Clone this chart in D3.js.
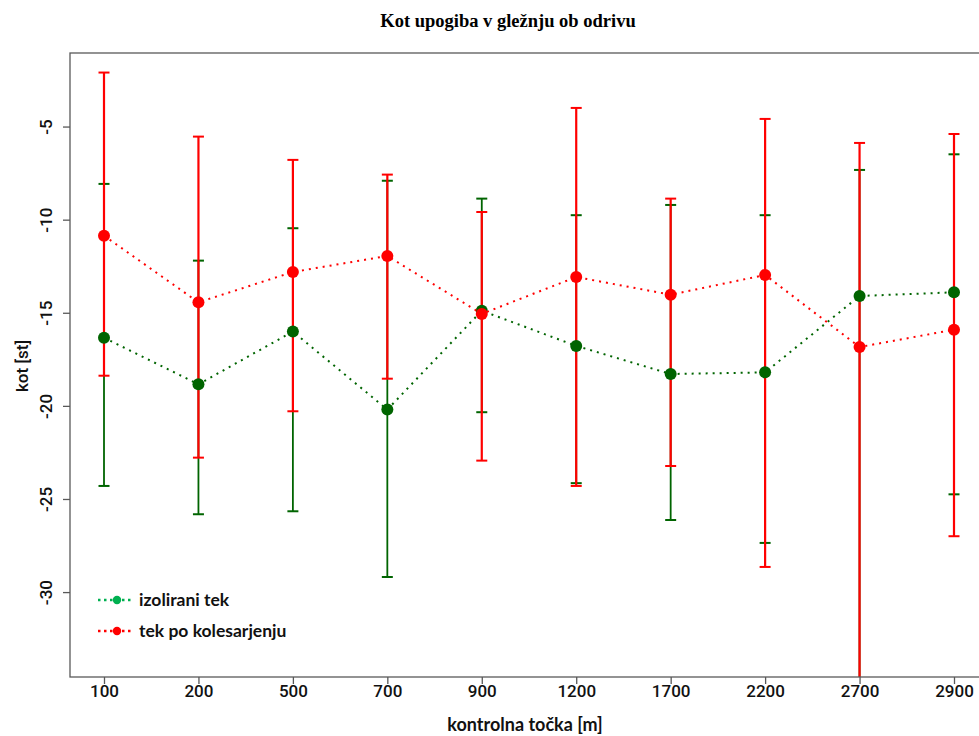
<!DOCTYPE html>
<html>
<head>
<meta charset="utf-8">
<script src="https://cdn.jsdelivr.net/npm/d3@7"></script>
<style>
  html, body { margin: 0; padding: 0; background: #fff; }
  svg { display: block; }
</style>
</head>
<body>
<svg id="chart" width="979" height="736"></svg>
<script>
// Control points along the course
const categories = ["100", "200", "500", "700", "900", "1200", "1700", "2200", "2700", "2900"];

// Isolated run: mean ankle flexion angle and error bar ends
const izoMean  = [-16.34, -18.84, -16.01, -20.20, -14.89, -16.78, -18.29, -18.20, -14.10, -13.90];
const izoUpper = [-8.08, -12.20, -10.46, -7.91, -8.87, -9.76, -9.21, -9.76, -7.33, -6.49];
const izoLower = [-24.30, -25.82, -25.66, -29.19, -20.34, -24.15, -26.13, -27.36, -36.00, -24.75];

// Run after cycling
const tekMean  = [-10.86, -14.44, -12.81, -11.95, -15.06, -13.08, -14.03, -12.97, -16.84, -15.91];
const tekUpper = [-2.10, -5.54, -6.79, -7.58, -9.59, -4.00, -8.87, -4.59, -5.88, -5.40];
const tekLower = [-18.38, -22.78, -20.29, -18.54, -22.94, -24.30, -23.23, -28.65, -37.00, -27.00];

const yTicks = [-30, -25, -20, -15, -10, -5];

const seriesNames = ["izolirani tek", "tek po kolesarjenju"];

const svg = d3.select("#chart");
const plot = { left: 70, right: 988, top: 53, bottom: 677 };

const x = d3.scalePoint().domain(categories).range([plot.left, plot.right]).padding(0.36);
const y = d3.scaleLinear().domain([-34.56, -1.05]).range([plot.bottom, plot.top]);

const series = [
  { name: seriesNames[0], mean: izoMean, upper: izoUpper, lower: izoLower, color: "#006400", barWidth: 1.8, legendColor: "#00b050" },
  { name: seriesNames[1], mean: tekMean, upper: tekUpper, lower: tekLower, color: "#ff0000", barWidth: 2.2, legendColor: "#ff0000" }
];

const tickFont = "Roboto, 'Liberation Sans', Arial, sans-serif";
const labelFont = "Lato, 'Open Sans', sans-serif";

svg.append("defs").append("clipPath").attr("id", "plotClip")
  .append("rect")
  .attr("x", plot.left).attr("y", plot.top)
  .attr("width", plot.right - plot.left).attr("height", plot.bottom - plot.top);

// Title
svg.append("text")
  .attr("x", 508).attr("y", 27)
  .attr("text-anchor", "middle")
  .attr("font-family", "'Liberation Serif', 'Times New Roman', serif")
  .attr("font-weight", "bold")
  .attr("font-size", 18.5)
  .text("Kot upogiba v gležnju ob odrivu");

const inner = svg.append("g").attr("clip-path", "url(#plotClip)");

// Error bars: both series first, then the connecting lines and points
const capHalf = 5.5;
series.forEach(s => {
  const g = inner.append("g");
  categories.forEach((c, i) => {
    const cx = x(c);
    g.append("line")
      .attr("x1", cx).attr("x2", cx)
      .attr("y1", y(s.upper[i])).attr("y2", y(s.lower[i]))
      .attr("stroke", s.color).attr("stroke-width", s.barWidth);
    [s.upper[i], s.lower[i]].forEach(v => {
      g.append("line")
        .attr("x1", cx - capHalf).attr("x2", cx + capHalf)
        .attr("y1", y(v)).attr("y2", y(v))
        .attr("stroke", s.color).attr("stroke-width", 2);
    });
  });
});

const line = d3.line().x((d, i) => x(categories[i])).y(d => y(d));
series.forEach(s => {
  inner.append("path")
    .datum(s.mean)
    .attr("d", line)
    .attr("fill", "none")
    .attr("stroke", s.color)
    .attr("stroke-width", 2)
    .attr("stroke-dasharray", "2,5");
  inner.append("g").selectAll("circle")
    .data(s.mean)
    .join("circle")
    .attr("cx", (d, i) => x(categories[i]))
    .attr("cy", d => y(d))
    .attr("r", 6)
    .attr("fill", s.color);
});

// Plot frame
svg.append("rect")
  .attr("x", plot.left).attr("y", plot.top)
  .attr("width", plot.right - plot.left).attr("height", plot.bottom - plot.top)
  .attr("fill", "none").attr("stroke", "#595959").attr("stroke-width", 1.3);

// Y axis (plain hyphen-minus labels)
const yAxis = d3.axisLeft(y).tickValues(yTicks).tickSize(7).tickFormat(d => String(d));
const gy = svg.append("g").attr("transform", `translate(${plot.left},0)`).call(yAxis);
gy.select(".domain").remove();
gy.selectAll(".tick line").attr("stroke", "#595959").attr("stroke-width", 1.3);
gy.selectAll(".tick text")
  .attr("font-family", tickFont)
  .attr("font-weight", 500)
  .attr("font-size", 17)
  .attr("fill", "#111")
  .attr("transform", "rotate(-90)")
  .attr("x", 0).attr("y", -18)
  .attr("dy", 0)
  .attr("text-anchor", "middle");

// X axis
const xAxis = d3.axisBottom(x).tickSize(7);
const gx = svg.append("g").attr("transform", `translate(0,${plot.bottom})`).call(xAxis);
gx.select(".domain").remove();
gx.selectAll(".tick line").attr("stroke", "#595959").attr("stroke-width", 1.3);
gx.selectAll(".tick text")
  .attr("font-family", tickFont)
  .attr("font-weight", 500)
  .attr("font-size", 17)
  .attr("fill", "#111")
  .attr("y", 20)
  .attr("dy", 0);

// Axis titles
svg.append("text")
  .attr("x", 525).attr("y", 731)
  .attr("text-anchor", "middle")
  .attr("font-family", labelFont)
  .attr("font-weight", "bold")
  .attr("font-size", 18)
  .attr("fill", "#111")
  .text("kontrolna točka [m]");

svg.append("text")
  .attr("transform", "translate(28,366) rotate(-90)")
  .attr("text-anchor", "middle")
  .attr("font-family", tickFont)
  .attr("font-weight", 500)
  .attr("font-size", 17)
  .attr("fill", "#111")
  .text("kot [st]");

// Legend
const legend = svg.append("g");
series.forEach((s, i) => {
  const ly = 600 + i * 31;
  legend.append("line")
    .attr("x1", 98).attr("x2", 133).attr("y1", ly).attr("y2", ly)
    .attr("stroke", s.legendColor).attr("stroke-width", 2.5)
    .attr("stroke-dasharray", "2.5,3.5");
  legend.append("circle")
    .attr("cx", 117).attr("cy", ly).attr("r", 4.2)
    .attr("fill", s.legendColor);
  legend.append("text")
    .attr("x", 139).attr("y", ly + 6)
    .attr("font-family", labelFont)
    .attr("font-weight", "bold")
    .attr("font-size", 17.5)
    .attr("fill", "#111")
    .text(s.name);
});
</script>
</body>
</html>
